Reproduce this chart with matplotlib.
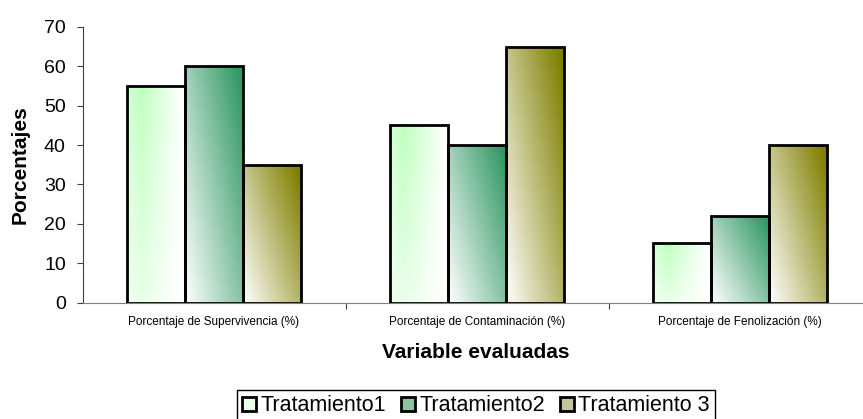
'''Porcentajes por variable evaluada y tratamiento.
'''
import numpy as np
from matplotlib import pyplot as plt
from matplotlib.colors import to_rgb
from matplotlib.patches import Patch

categorias = ['Porcentaje de Supervivencia (%)',
              'Porcentaje de Contaminación (%)',
              'Porcentaje de Fenolización (%)']
tratamientos = ['Tratamiento1', 'Tratamiento2', 'Tratamiento 3']
tratamiento1 = [55, 45, 15]
tratamiento2 = [60, 40, 22]
tratamiento3 = [35, 65, 40]
y_ticks = [0, 10, 20, 30, 40, 50, 60, 70]

plt.rcParams['font.family'] = ['Liberation Sans', 'DejaVu Sans']


def gradient(kind, color, n=64):
    '''Fill image for one bar: white fading into color.'''
    xn, yn = np.meshgrid(np.linspace(0, 1, n), np.linspace(0, 1, n))
    if kind == 'side':
        f = np.clip(1 - 1.4 * np.abs(xn - 0.25), 0, 1) * (0.35 + 0.65 * yn)
    else:
        f = np.clip(0.6 * xn + 0.45 * yn, 0, 1)
    rgb = np.array(to_rgb(color))
    return 1 - f[..., None] * (1 - rgb)


fig = plt.figure(figsize=(8.63, 4.19), dpi=100)
ax = fig.add_axes([82.5 / 863, 116.5 / 419, 789 / 863, 275.5 / 419])

series = [tratamiento1, tratamiento2, tratamiento3]
estilos = [('side', '#bfffbf'), ('diag', '#339966'), ('diag', '#808000')]
leyenda = ['#eaffea', '#8cc3a3', '#c4c49a']
width = 0.22
x = np.arange(len(categorias))
handles = []
for i, (values, (kind, color)) in enumerate(zip(series, estilos)):
    pos = x + (i - 1) * width
    bars = ax.bar(pos, values, width, facecolor='none', edgecolor='black',
                  linewidth=2, zorder=3)
    img = gradient(kind, color)
    for bar in bars:
        x0, h = bar.get_x(), bar.get_height()
        im = ax.imshow(img, extent=[x0, x0 + width, 0, h], origin='lower',
                       aspect='auto', interpolation='bilinear', zorder=2)
        im.set_clip_path(bar)
    handles.append(Patch(facecolor=leyenda[i], edgecolor='black',
                         linewidth=2, label=tratamientos[i]))

ax.set_xlim(-0.5, 2.5)
ax.set_ylim(0, 70)
ax.set_yticks(y_ticks)
ax.tick_params(axis='y', labelsize=14, length=4.5, color='#404040', pad=7.5)
ax.set_xticks([0.5, 1.5])
ax.set_xticklabels([])
ax.tick_params(axis='x', which='major', length=4, color='#404040')
ax.set_xticks(x, minor=True)
ax.set_xticklabels(categorias, minor=True, fontsize=8.5)
ax.tick_params(axis='x', which='minor', length=0, pad=10)

for side in ['top', 'right']:
    ax.spines[side].set_visible(False)
ax.spines['left'].set_color('#404040')
ax.spines['bottom'].set_color('#808080')

ax.set_ylabel('Porcentajes', fontsize=15, fontweight='bold')
ax.yaxis.set_label_coords(-53 / 789, 0.5)
ax.set_xlabel('Variable evaluadas', fontsize=15, fontweight='bold')
ax.xaxis.set_label_coords((476 - 82.5) / 789, -40 / 275.5)

fig.legend(handles=handles, loc='upper center',
           bbox_to_anchor=(476 / 863, 1 - 390 / 419),
           ncol=3, fontsize=15.5, frameon=True, fancybox=False,
           edgecolor='black', handlelength=0.65, handleheight=0.65,
           handletextpad=0.2, columnspacing=0.7, borderpad=0.25,
           borderaxespad=0, framealpha=1)
fig.savefig('out.png', dpi=100)
